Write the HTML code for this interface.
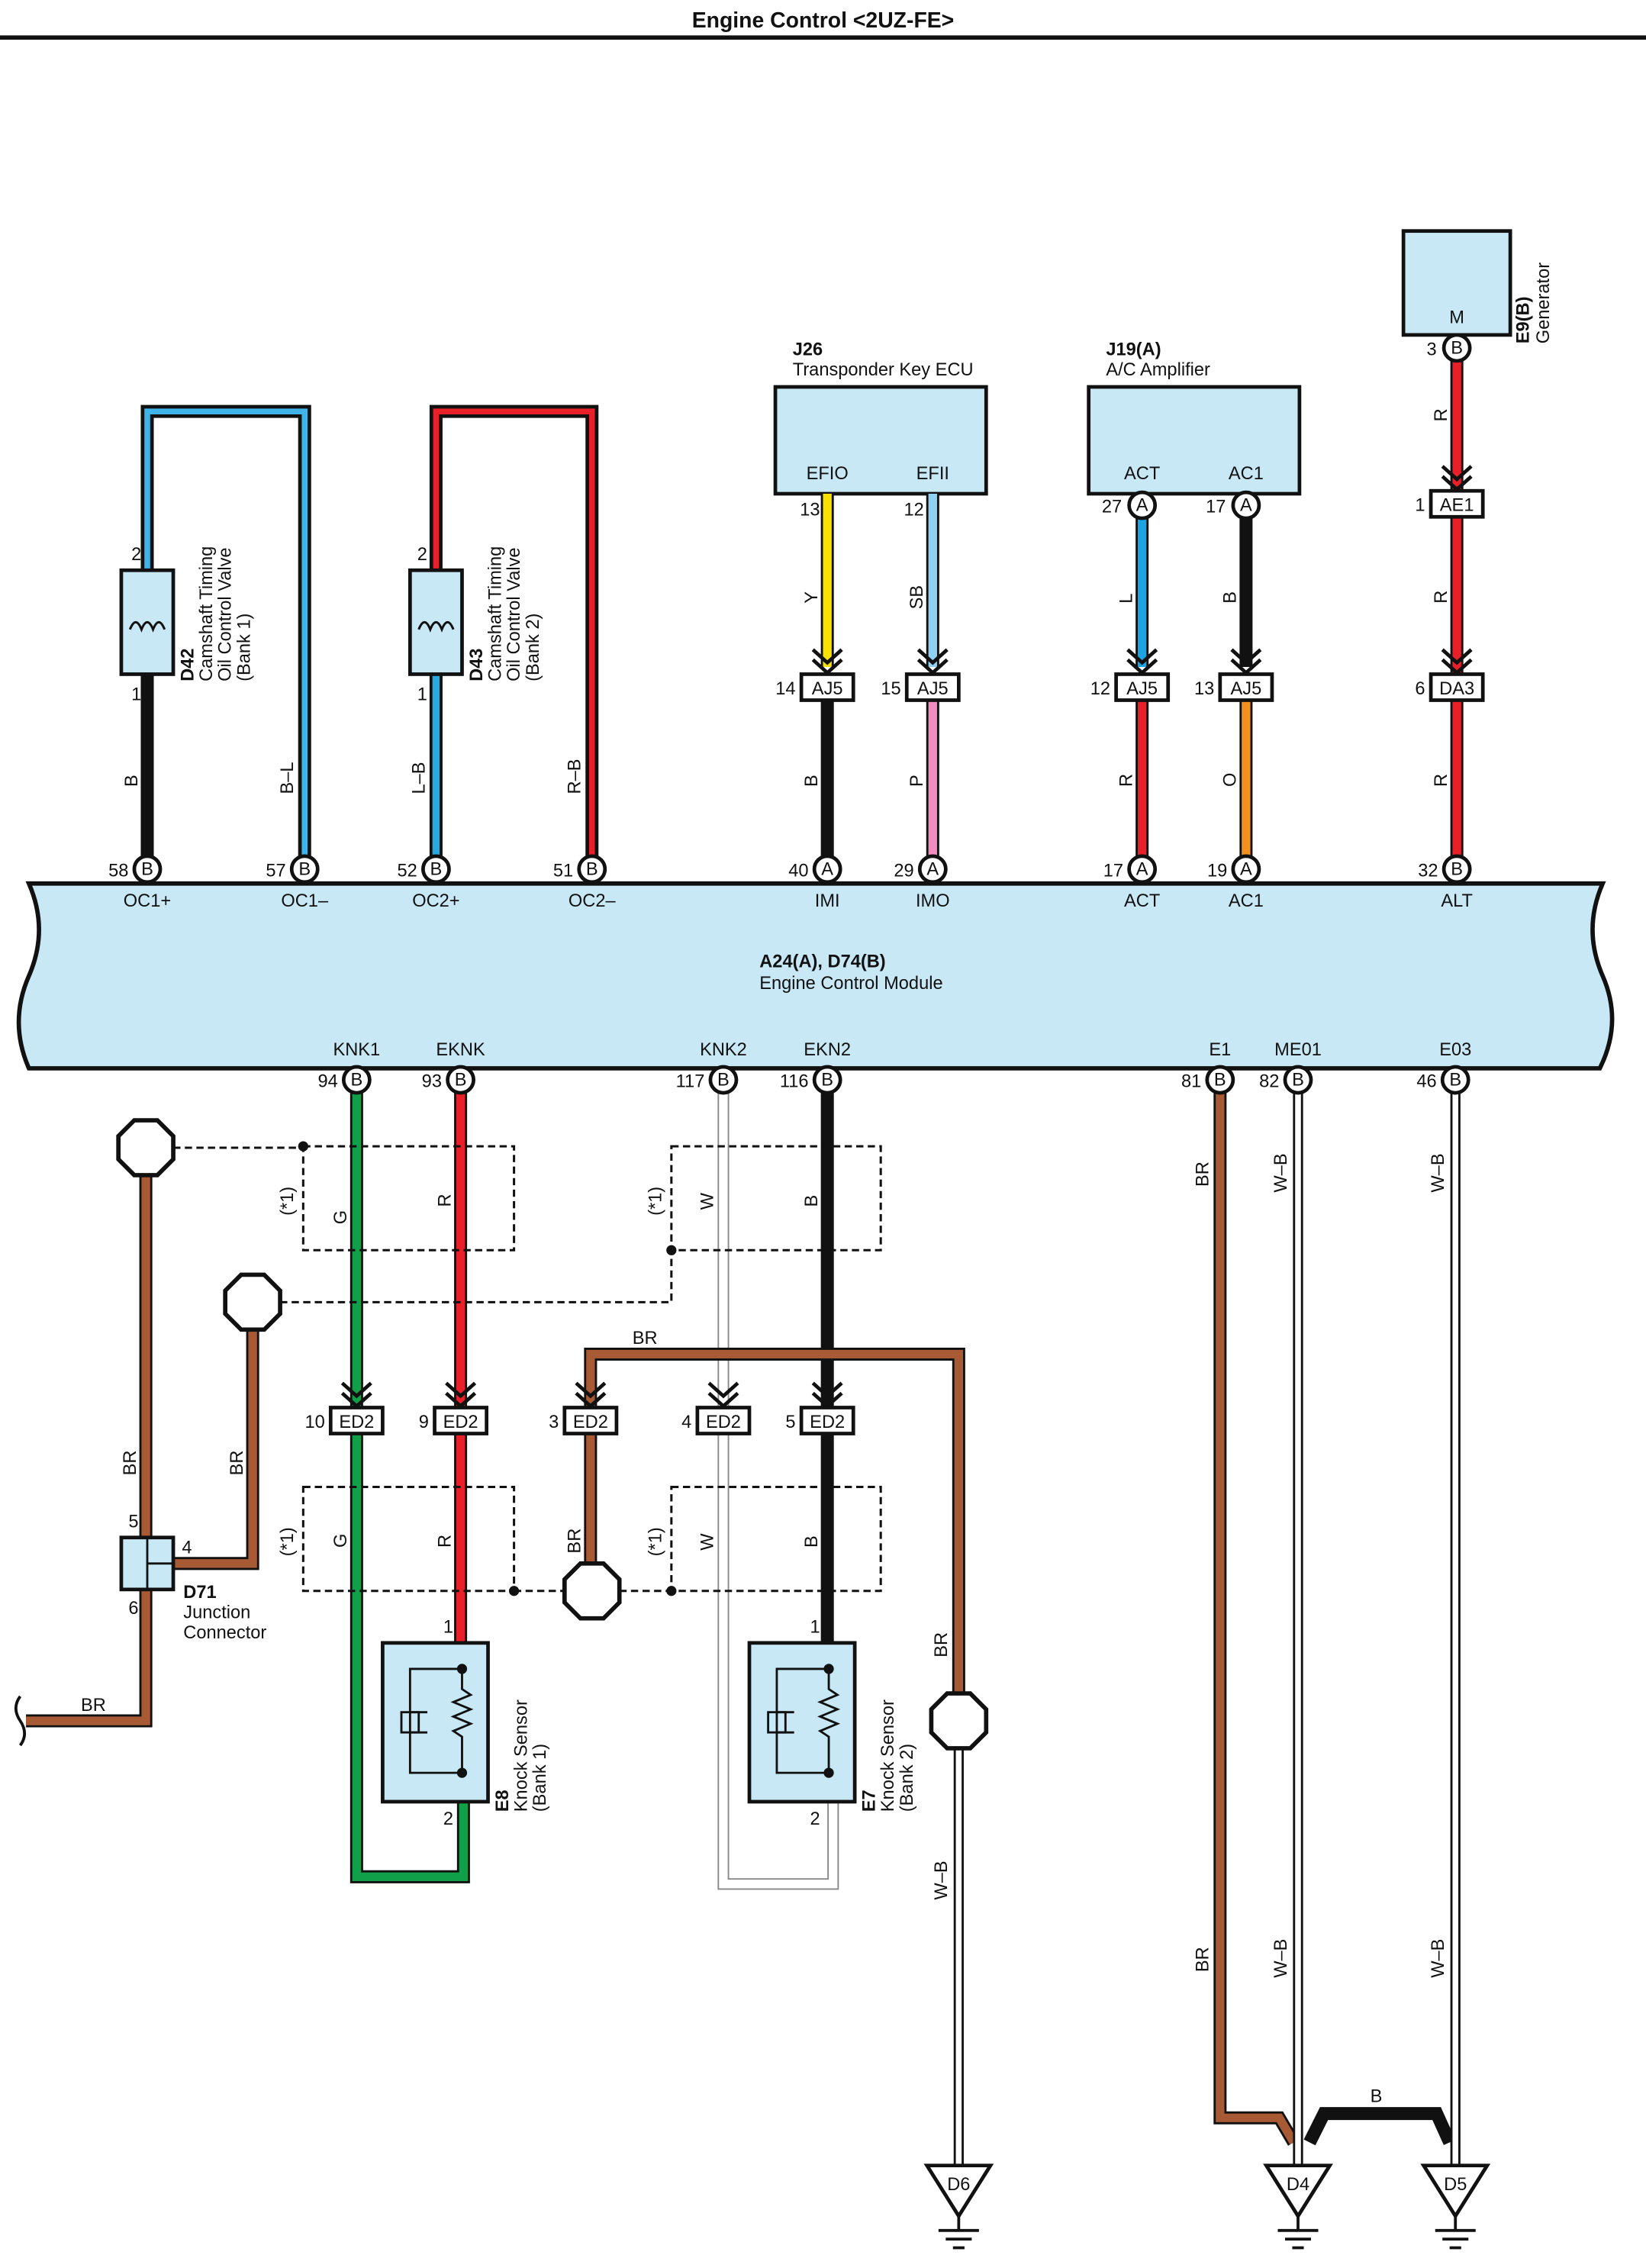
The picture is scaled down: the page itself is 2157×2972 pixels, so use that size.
<!DOCTYPE html>
<html><head><meta charset="utf-8"><style>
html,body{margin:0;padding:0;background:#fff}
svg{display:block}
text{font-family:"Liberation Sans",Arial,sans-serif;font-size:12.5px;fill:#111}
.b{font-weight:bold}
.bk{fill:none;stroke:#111;stroke-width:9;stroke-linejoin:miter}
.dash{fill:none;stroke:#111;stroke-width:1.6;stroke-dasharray:5,3}
</style></head><body>
<svg width="2157" height="2972" viewBox="0 0 1140 1571" preserveAspectRatio="none" xmlns="http://www.w3.org/2000/svg">
<text x="570" y="19" text-anchor="middle" class="b" style="font-size:15px">Engine Control &lt;2UZ-FE&gt;</text>
<line x1="0" y1="26" x2="1140" y2="26" stroke="#111" stroke-width="3"/>

<!-- D42 loop -->
<path d="M102,395 V285 H211 V602" class="bk" stroke-width="10"/>
<path d="M102,395 V285 H211 V602" fill="none" stroke="#3fb4e8" stroke-width="4"/>
<line x1="102" y1="467" x2="102" y2="602" stroke="#111" stroke-width="9"/>
<!-- D43 loop -->
<path d="M302,395 V285 H410 V602" class="bk" stroke-width="10"/>
<path d="M302,395 V285 H410 V602" fill="none" stroke="#e8202a" stroke-width="4"/>
<line x1="302" y1="467" x2="302" y2="602" stroke="#111" stroke-width="9"/>
<line x1="302" y1="467" x2="302" y2="602" stroke="#2aa8e0" stroke-width="5"/>

<g fill="#c8e8f6" stroke="#111" stroke-width="2.5">
<rect x="84" y="395" width="36" height="72"/><rect x="284" y="395" width="36" height="72"/>
</g>
<path d="M94,436 q4,-10 8,0 q4,-10 8,0 q4,-10 8,0" transform="translate(-4,0)" fill="none" stroke="#111" stroke-width="1.6"/>
<path d="M294,436 q4,-10 8,0 q4,-10 8,0 q4,-10 8,0" transform="translate(-4,0)" fill="none" stroke="#111" stroke-width="1.6"/>
<text x="91" y="388">2</text><text x="91" y="485">1</text><text x="289" y="388">2</text><text x="289" y="485">1</text>
<g transform="translate(134,472) rotate(-90)"><text class="b">D42</text><text x="0" y="13">Camshaft Timing</text><text x="0" y="26">Oil Control Valve</text><text y="39">(Bank 1)</text></g>
<g transform="translate(334,472) rotate(-90)"><text class="b">D43</text><text x="0" y="13">Camshaft Timing</text><text x="0" y="26">Oil Control Valve</text><text y="39">(Bank 2)</text></g>
<g transform="translate(95,545) rotate(-90)"><text>B</text></g>
<g transform="translate(203,550) rotate(-90)"><text>B–L</text></g>
<g transform="translate(294,550) rotate(-90)"><text>L–B</text></g>
<g transform="translate(402,550) rotate(-90)"><text>R–B</text></g>

<!-- J26 -->
<rect x="537" y="268" width="146" height="74" fill="#c8e8f6" stroke="#111" stroke-width="2.5"/>
<text x="549" y="246" class="b">J26</text><text x="549" y="260">Transponder Key ECU</text>
<text x="573" y="332" text-anchor="middle">EFIO</text><text x="646" y="332" text-anchor="middle">EFII</text>
<text x="554" y="357">13</text><text x="626" y="357">12</text>
<!-- J19 -->
<rect x="754" y="268" width="146" height="74" fill="#c8e8f6" stroke="#111" stroke-width="2.5"/>
<text x="766" y="246" class="b">J19(A)</text><text x="766" y="260">A/C Amplifier</text>
<text x="791" y="332" text-anchor="middle">ACT</text><text x="863" y="332" text-anchor="middle">AC1</text>
<!-- E9 -->
<rect x="972" y="160" width="74" height="72" fill="#c8e8f6" stroke="#111" stroke-width="2.5"/>
<text x="1009" y="224" text-anchor="middle">M</text>
<g transform="translate(1059,238) rotate(-90)"><text class="b">E9(B)</text><text x="0" y="14">Generator</text></g>

<!-- upper wires -->
<g stroke-linecap="butt">
<line x1="573" y1="342" x2="573" y2="462" stroke="#111" stroke-width="9"/><line x1="573" y1="342" x2="573" y2="462" stroke="#f8e000" stroke-width="6"/>
<line x1="646" y1="342" x2="646" y2="462" stroke="#111" stroke-width="9"/><line x1="646" y1="342" x2="646" y2="462" stroke="#8fd0f4" stroke-width="6"/>
<line x1="791" y1="358" x2="791" y2="462" stroke="#111" stroke-width="9"/><line x1="791" y1="358" x2="791" y2="462" stroke="#1aa4e2" stroke-width="6"/>
<line x1="863" y1="358" x2="863" y2="462" stroke="#111" stroke-width="9"/>
<line x1="573" y1="486" x2="573" y2="594" stroke="#111" stroke-width="9"/>
<line x1="646" y1="486" x2="646" y2="594" stroke="#111" stroke-width="9"/><line x1="646" y1="486" x2="646" y2="594" stroke="#f08cc0" stroke-width="6"/>
<line x1="791" y1="486" x2="791" y2="594" stroke="#111" stroke-width="9"/><line x1="791" y1="486" x2="791" y2="594" stroke="#e8202a" stroke-width="6"/>
<line x1="863" y1="486" x2="863" y2="594" stroke="#111" stroke-width="9"/><line x1="863" y1="486" x2="863" y2="594" stroke="#f29020" stroke-width="6"/>
<line x1="1009" y1="249" x2="1009" y2="594" stroke="#111" stroke-width="9"/><line x1="1009" y1="249" x2="1009" y2="594" stroke="#e8202a" stroke-width="6"/>
</g>
<g transform="translate(566,418) rotate(-90)"><text>Y</text></g>
<g transform="translate(639,422) rotate(-90)"><text>SB</text></g>
<g transform="translate(784,418) rotate(-90)"><text>L</text></g>
<g transform="translate(856,418) rotate(-90)"><text>B</text></g>
<g transform="translate(566,545) rotate(-90)"><text>B</text></g>
<g transform="translate(639,545) rotate(-90)"><text>P</text></g>
<g transform="translate(784,545) rotate(-90)"><text>R</text></g>
<g transform="translate(856,545) rotate(-90)"><text>O</text></g>
<g transform="translate(1002,292) rotate(-90)"><text>R</text></g>
<g transform="translate(1002,418) rotate(-90)"><text>R</text></g>
<g transform="translate(1002,545) rotate(-90)"><text>R</text></g>

<!-- ECM -->
<path d="M20,612 H1110 q-14,32 0,64 q14,32 -2,64 H20 q-14,-32 0,-64 q14,-32 0,-64Z" fill="#c8e8f6" stroke="#111" stroke-width="3"/>
<text x="526" y="670" class="b">A24(A), D74(B)</text><text x="526" y="685">Engine Control Module</text>
<g text-anchor="middle">
<text x="102" y="628">OC1+</text><text x="211" y="628">OC1–</text><text x="302" y="628">OC2+</text><text x="410" y="628">OC2–</text>
<text x="573" y="628">IMI</text><text x="646" y="628">IMO</text><text x="791" y="628">ACT</text><text x="863" y="628">AC1</text><text x="1009" y="628">ALT</text>
<text x="247" y="731">KNK1</text><text x="319" y="731">EKNK</text><text x="501" y="731">KNK2</text><text x="573" y="731">EKN2</text>
<text x="845" y="731">E1</text><text x="899" y="731">ME01</text><text x="1008" y="731">E03</text>
</g>

<!-- lower wires -->
<path d="M247,757 V1300 H321 V1248" fill="none" stroke="#111" stroke-width="9"/>
<path d="M247,757 V1300 H321 V1248" fill="none" stroke="#10a04a" stroke-width="6"/>
<line x1="319" y1="757" x2="319" y2="1138" stroke="#111" stroke-width="9"/><line x1="319" y1="757" x2="319" y2="1138" stroke="#e8202a" stroke-width="6"/>
<path d="M501,757 V1305 H577 V1248" fill="none" stroke="#888" stroke-width="8"/>
<path d="M501,757 V1305 H577 V1248" fill="none" stroke="#fff" stroke-width="6"/>
<line x1="573" y1="757" x2="573" y2="1138" stroke="#111" stroke-width="9"/>
<path d="M409,975 V938 H664 V1174" fill="none" stroke="#111" stroke-width="9"/>
<path d="M409,975 V938 H664 V1174" fill="none" stroke="#a85a34" stroke-width="6"/>
<line x1="409" y1="993" x2="409" y2="1084" stroke="#111" stroke-width="9"/><line x1="409" y1="993" x2="409" y2="1084" stroke="#a85a34" stroke-width="6"/>
<path d="M101,815 V1192 H18" fill="none" stroke="#111" stroke-width="9"/>
<path d="M101,815 V1192 H18" fill="none" stroke="#a85a34" stroke-width="6"/>
<path d="M175,921 V1083 H120" fill="none" stroke="#111" stroke-width="9"/>
<path d="M175,921 V1083 H120" fill="none" stroke="#a85a34" stroke-width="6"/>
<path d="M14,1175 q-6,8 0,17 q6,9 0,17" fill="none" stroke="#111" stroke-width="2"/>
<path d="M845,757 V1467 H886 L896,1484" fill="none" stroke="#111" stroke-width="9"/>
<path d="M845,757 V1467 H886 L896,1484" fill="none" stroke="#a85a34" stroke-width="6"/>
<path d="M907,1484 L917,1464 H995 L1004,1484" fill="none" stroke="#111" stroke-width="9"/>
<g>
<line x1="899" y1="757" x2="899" y2="1502" stroke="#111" stroke-width="7"/><line x1="899" y1="757" x2="899" y2="1502" stroke="#fff" stroke-width="4"/>
<line x1="1008" y1="757" x2="1008" y2="1502" stroke="#111" stroke-width="7"/><line x1="1008" y1="757" x2="1008" y2="1502" stroke="#fff" stroke-width="4"/>
<line x1="664" y1="1210" x2="664" y2="1502" stroke="#111" stroke-width="7"/><line x1="664" y1="1210" x2="664" y2="1502" stroke="#fff" stroke-width="4"/>
</g>

<!-- dashed -->
<rect x="210" y="794" width="146" height="72" class="dash"/><rect x="465" y="794" width="145" height="72" class="dash"/>
<rect x="210" y="1030" width="146" height="72" class="dash"/><rect x="465" y="1030" width="145" height="72" class="dash"/>
<path d="M120,795 H210 M194,902 H465 V866 M356,1102 H391 M429,1102 H465" class="dash"/>
<g fill="#111"><circle cx="210" cy="794" r="3.5"/><circle cx="465" cy="866" r="3.5"/><circle cx="356" cy="1102" r="3.5"/><circle cx="465" cy="1102" r="3.5"/><circle cx="102" cy="1083" r="3.5"/></g>
<g transform="translate(203,842) rotate(-90)"><text>(*1)</text></g>
<g transform="translate(458,842) rotate(-90)"><text>(*1)</text></g>
<g transform="translate(203,1078) rotate(-90)"><text>(*1)</text></g>
<g transform="translate(458,1078) rotate(-90)"><text>(*1)</text></g>

<!-- octagons -->
<g fill="#fff" stroke="#111" stroke-width="3">
<polygon points="93,776 109,776 120,787 120,803 109,814 93,814 82,803 82,787"/>
<polygon points="167,883 183,883 194,894 194,910 183,921 167,921 156,910 156,894"/>
<polygon points="402,1083 418,1083 429,1094 429,1110 418,1121 402,1121 391,1110 391,1094"/>
<polygon points="656,1173 672,1173 683,1184 683,1200 672,1211 656,1211 645,1200 645,1184"/>
</g>

<!-- D71 -->
<rect x="84" y="1065" width="36" height="36" fill="#c8e8f6" stroke="#111" stroke-width="2.5"/>
<line x1="102" y1="1065" x2="102" y2="1101" stroke="#111" stroke-width="1.5"/><line x1="102" y1="1083" x2="120" y2="1083" stroke="#111" stroke-width="1.5"/>
<text x="89" y="1058">5</text><text x="126" y="1076">4</text><text x="89" y="1118">6</text>
<text x="127" y="1107" class="b">D71</text>
<text x="127" y="1121">Junction</text><text x="127" y="1135">Connector</text>

<!-- sensors -->
<g fill="#c8e8f6" stroke="#111" stroke-width="2.5"><rect x="265" y="1138" width="73" height="110"/><rect x="519" y="1138" width="73" height="110"/></g>
<g fill="none" stroke="#111" stroke-width="1.5">
<path d="M320,1156 H284 V1228 H320 M320,1156 V1170 l6,4 -12,5 12,5 -12,5 12,5 -12,5 6,4 V1228 M284,1186 H296 M284,1200 H296"/>
<rect x="278" y="1186" width="12" height="14"/>
<path d="M574,1156 H538 V1228 H574 M574,1156 V1170 l6,4 -12,5 12,5 -12,5 12,5 -12,5 6,4 V1228 M538,1186 H550 M538,1200 H550"/>
<rect x="532" y="1186" width="12" height="14"/>
</g>
<g fill="#111"><circle cx="320" cy="1156" r="3.5"/><circle cx="320" cy="1228" r="3.5"/><circle cx="574" cy="1156" r="3.5"/><circle cx="574" cy="1228" r="3.5"/></g>
<text x="307" y="1131">1</text><text x="307" y="1264">2</text><text x="561" y="1131">1</text><text x="561" y="1264">2</text>
<g transform="translate(352,1255) rotate(-90)"><text class="b">E8</text><text y="13">Knock Sensor</text><text y="26">(Bank 1)</text></g>
<g transform="translate(606,1255) rotate(-90)"><text class="b">E7</text><text y="13">Knock Sensor</text><text y="26">(Bank 2)</text></g>

<!-- wire labels lower -->
<g transform="translate(240,848) rotate(-90)"><text>G</text></g>
<g transform="translate(312,836) rotate(-90)"><text>R</text></g>
<g transform="translate(494,838) rotate(-90)"><text>W</text></g>
<g transform="translate(566,836) rotate(-90)"><text>B</text></g>
<g transform="translate(240,1072) rotate(-90)"><text>G</text></g>
<g transform="translate(312,1072) rotate(-90)"><text>R</text></g>
<g transform="translate(494,1074) rotate(-90)"><text>W</text></g>
<g transform="translate(566,1072) rotate(-90)"><text>B</text></g>
<text x="438" y="931">BR</text>
<g transform="translate(94,1022) rotate(-90)"><text>BR</text></g>
<g transform="translate(168,1022) rotate(-90)"><text>BR</text></g>
<g transform="translate(402,1076) rotate(-90)"><text>BR</text></g>
<g transform="translate(656,1148) rotate(-90)"><text>BR</text></g>
<g transform="translate(656,1316) rotate(-90)"><text>W–B</text></g>
<text x="56" y="1185">BR</text>
<g transform="translate(837,822) rotate(-90)"><text>BR</text></g>
<g transform="translate(891,826) rotate(-90)"><text>W–B</text></g>
<g transform="translate(1000,826) rotate(-90)"><text>W–B</text></g>
<g transform="translate(837,1366) rotate(-90)"><text>BR</text></g>
<g transform="translate(891,1370) rotate(-90)"><text>W–B</text></g>
<g transform="translate(1000,1370) rotate(-90)"><text>W–B</text></g>
<text x="949" y="1456">B</text>

<!-- pins circles -->
<g fill="#fff" stroke="#111" stroke-width="2.5">
<circle cx="102" cy="602" r="9"/><circle cx="211" cy="602" r="9"/><circle cx="302" cy="602" r="9"/><circle cx="410" cy="602" r="9"/>
<circle cx="573" cy="602" r="9"/><circle cx="646" cy="602" r="9"/><circle cx="791" cy="602" r="9"/><circle cx="863" cy="602" r="9"/><circle cx="1009" cy="602" r="9"/>
<circle cx="247" cy="748" r="9"/><circle cx="319" cy="748" r="9"/><circle cx="501" cy="748" r="9"/><circle cx="573" cy="748" r="9"/>
<circle cx="845" cy="748" r="9"/><circle cx="899" cy="748" r="9"/><circle cx="1008" cy="748" r="9"/>
<circle cx="791" cy="350" r="9"/><circle cx="863" cy="350" r="9"/><circle cx="1009" cy="241" r="9"/>
</g>
<g text-anchor="middle" style="font-size:11px">
<text x="102" y="606">B</text><text x="211" y="606">B</text><text x="302" y="606">B</text><text x="410" y="606">B</text>
<text x="573" y="606">A</text><text x="646" y="606">A</text><text x="791" y="606">A</text><text x="863" y="606">A</text><text x="1009" y="606">B</text>
<text x="247" y="752">B</text><text x="319" y="752">B</text><text x="501" y="752">B</text><text x="573" y="752">B</text>
<text x="845" y="752">B</text><text x="899" y="752">B</text><text x="1008" y="752">B</text>
<text x="791" y="354">A</text><text x="863" y="354">A</text><text x="1009" y="245">B</text>
</g>
<g text-anchor="end">
<text x="89" y="607">58</text><text x="198" y="607">57</text><text x="289" y="607">52</text><text x="397" y="607">51</text>
<text x="560" y="607">40</text><text x="633" y="607">29</text><text x="778" y="607">17</text><text x="850" y="607">19</text><text x="996" y="607">32</text>
<text x="234" y="753">94</text><text x="306" y="753">93</text><text x="488" y="753">117</text><text x="560" y="753">116</text>
<text x="832" y="753">81</text><text x="886" y="753">82</text><text x="995" y="753">46</text>
<text x="777" y="355">27</text><text x="849" y="355">17</text><text x="995" y="246">3</text>
</g>

<!-- connectors with chevrons -->
<g fill="none" stroke="#111" stroke-width="2.5">
<path d="M563,450 l10,9 10,-9 M563,457 l10,9 10,-9"/><path d="M636,450 l10,9 10,-9 M636,457 l10,9 10,-9"/>
<path d="M781,450 l10,9 10,-9 M781,457 l10,9 10,-9"/><path d="M853,450 l10,9 10,-9 M853,457 l10,9 10,-9"/>
<path d="M999,323 l10,9 10,-9 M999,330 l10,9 10,-9"/><path d="M999,450 l10,9 10,-9 M999,457 l10,9 10,-9"/>
<path d="M237,958 l10,9 10,-9 M237,965 l10,9 10,-9"/><path d="M309,958 l10,9 10,-9 M309,965 l10,9 10,-9"/>
<path d="M399,958 l10,9 10,-9 M399,965 l10,9 10,-9"/><path d="M491,958 l10,9 10,-9 M491,965 l10,9 10,-9"/>
<path d="M563,958 l10,9 10,-9 M563,965 l10,9 10,-9"/>
</g>
<g fill="#fff" stroke="#111" stroke-width="2.5">
<rect x="555" y="467" width="36" height="18"/><rect x="628" y="467" width="36" height="18"/>
<rect x="773" y="467" width="36" height="18"/><rect x="845" y="467" width="36" height="18"/>
<rect x="991" y="340" width="36" height="18"/><rect x="991" y="467" width="36" height="18"/>
<rect x="229" y="975" width="36" height="18"/><rect x="301" y="975" width="36" height="18"/>
<rect x="391" y="975" width="36" height="18"/><rect x="483" y="975" width="36" height="18"/><rect x="555" y="975" width="36" height="18"/>
</g>
<g text-anchor="middle">
<text x="573" y="481">AJ5</text><text x="646" y="481">AJ5</text><text x="791" y="481">AJ5</text><text x="863" y="481">AJ5</text>
<text x="1009" y="354">AE1</text><text x="1009" y="481">DA3</text>
<text x="247" y="989">ED2</text><text x="319" y="989">ED2</text><text x="409" y="989">ED2</text><text x="501" y="989">ED2</text><text x="573" y="989">ED2</text>
</g>
<g text-anchor="end">
<text x="551" y="481">14</text><text x="624" y="481">15</text><text x="769" y="481">12</text><text x="841" y="481">13</text>
<text x="987" y="354">1</text><text x="987" y="481">6</text>
<text x="225" y="989">10</text><text x="297" y="989">9</text><text x="387" y="989">3</text><text x="479" y="989">4</text><text x="551" y="989">5</text>
</g>

<!-- grounds -->
<g fill="#fff" stroke="#111" stroke-width="2.5">
<polygon points="642,1500 686,1500 664,1535"/><polygon points="877,1500 921,1500 899,1535"/><polygon points="986,1500 1030,1500 1008,1535"/>
</g>
<g stroke="#111" stroke-width="2">
<path d="M664,1535 V1545 M650,1545 H678 M655,1551 H673 M660,1557 H668"/>
<path d="M899,1535 V1545 M885,1545 H913 M890,1551 H908 M895,1557 H903"/>
<path d="M1008,1535 V1545 M994,1545 H1022 M999,1551 H1017 M1004,1557 H1012"/>
</g>
<g text-anchor="middle"><text x="664" y="1517">D6</text><text x="899" y="1517">D4</text><text x="1008" y="1517">D5</text></g>
</svg>
</body></html>
